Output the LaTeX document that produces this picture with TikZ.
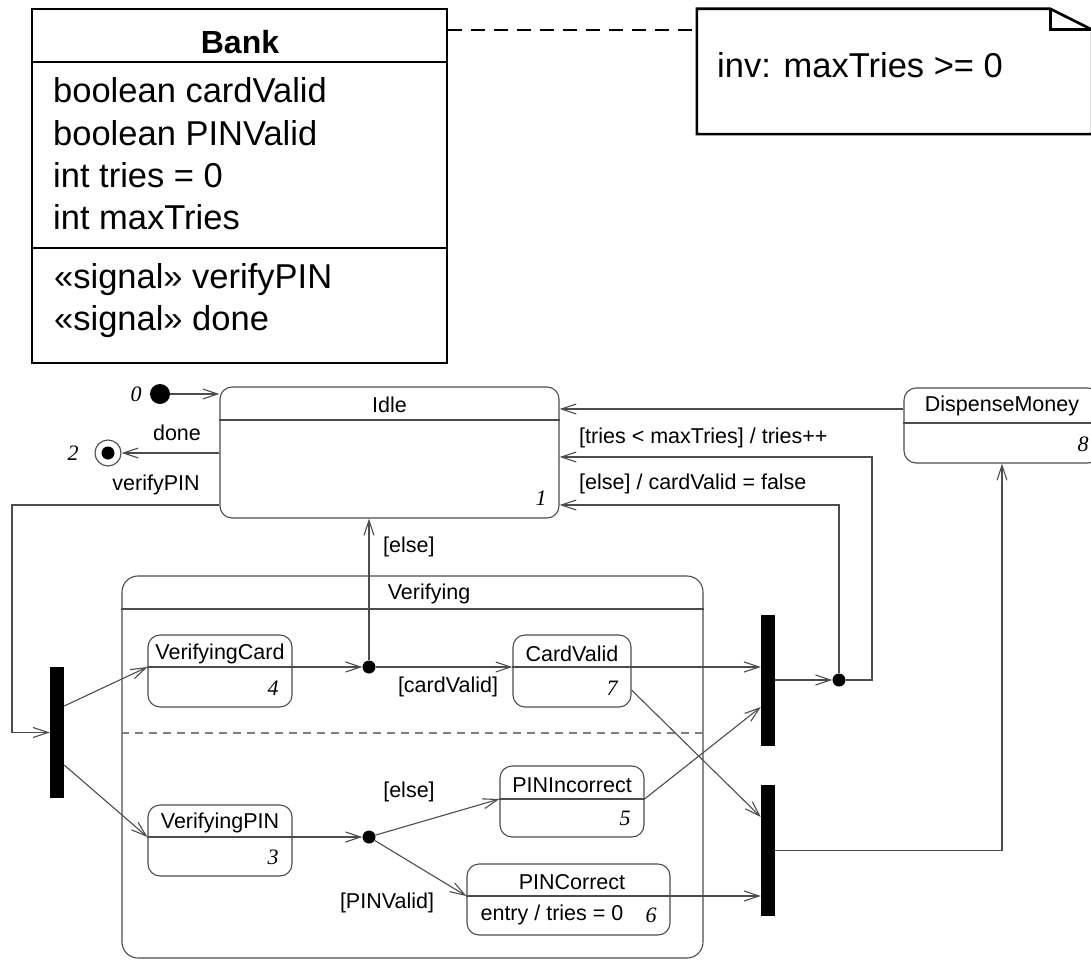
\documentclass[tikz,border=0pt]{standalone}
\usepackage{fontspec}
\setmainfont{Liberation Sans}
\newfontfamily\numfont{Liberation Serif}
\usetikzlibrary{arrows.meta}
\definecolor{linegray}{gray}{0.3}
\begin{document}
\begin{tikzpicture}[x=1pt,y=-1pt,
  state/.style={draw=linegray, line width=1.1pt, rounded corners=12pt, inner sep=0pt},
  sline/.style={draw=linegray, line width=1.1pt},
  trans/.style={draw=linegray, line width=1.1pt, -{Straight Barb[length=15pt,width=10pt,line width=1.1pt]}},
  lbl/.style={font=\fontsize{21.5}{25}\selectfont, inner sep=0pt},
  num/.style={font=\fontsize{22}{25}\selectfont\numfont\itshape, inner sep=0pt},
  bar/.style={fill=black, minimum width=14pt, minimum height=131pt, inner sep=0pt},
  junction/.style={circle, fill=black, minimum size=13pt, inner sep=0pt},
  cls/.style={font=\fontsize{34.5}{40}\selectfont, inner sep=0pt, anchor=west},
  thick line/.style={line width=2.6pt}]
\useasboundingbox (0,0) rectangle (1091,960);
\clip (0,0) rectangle (1091,960);

\node[draw, thick line, minimum width=415pt, minimum height=354pt, inner sep=0pt] (bank) at (239.5,186) {};
\draw[thick line] (bank.west |- 0,62) -- (bank.east |- 0,62);
\draw[thick line] (bank.west |- 0,248) -- (bank.east |- 0,248);
\node[cls, anchor=center, font=\fontsize{32}{40}\selectfont\bfseries] (bankname) at (240,42) {Bank};
\node[cls] (attr1) at (53,90) {boolean cardValid};
\node[cls] (attr2) at (53,133) {boolean PINValid};
\node[cls] (attr3) at (53,175) {int tries = 0};
\node[cls] (attr4) at (53,217) {int maxTries};
\node[cls] (sig1) at (54,280) {«signal» verifyPIN};
\node[cls] (sig2) at (54,322) {«signal» done};

\node[inner sep=0pt, minimum width=395pt, minimum height=125pt] (note) at (894.5,71.5) {};
\draw[thick line] (note.north west) -- ([xshift=-42pt]note.north east) -- ([yshift=-21pt]note.north east) -- (note.south east) -- (note.south west) -- cycle;
\draw[thick line] ([xshift=-42pt]note.north east) -- ([xshift=-42pt,yshift=-21pt]note.north east) -- ([yshift=-21pt]note.north east);
\node[cls] (invtext) at (717,65) {inv: maxTries >= 0};
\draw[thick line, dash pattern=on 14pt off 9pt] (bank.east |- 0,30) -- (note.west |- 0,30);

\node[state, rounded corners=16pt, minimum width=581pt, minimum height=382pt] (verifying) at (412.5,767) {};
\draw[sline] (verifying.west |- 0,609) -- (verifying.east |- 0,609);
\draw[sline, draw=gray, dash pattern=on 8pt off 6pt] (verifying.west |- 0,733) -- (verifying.east |- 0,733);
\node[lbl] (verifyingname) at (429,594) {Verifying};

\node[state, minimum width=339pt, minimum height=131pt] (idle) at (389.5,452.5) {};
\coordinate (idleh) at (389.5,420);
\draw[sline] (idle.west |- idleh) -- (idle.east |- idleh);
\node[lbl] (idlename) at (389.5,405) {Idle}; \node[num] (idlenum) at (541,498) {1};

\node[state, minimum width=196pt, minimum height=75pt] (dispense) at (1002,425.5) {};
\coordinate (dispenseh) at (1002,423);
\draw[sline] (dispense.west |- dispenseh) -- (dispense.east |- dispenseh);
\node[lbl] (dispensename) at (1002,406) {DispenseMoney}; \node[num] (dispensenum) at (1083,444) {8};

\node[state, minimum width=144pt, minimum height=72pt] (vcard) at (220,671) {};
\coordinate (vcardh) at (220,667);
\draw[sline] (vcard.west |- vcardh) -- (vcard.east |- vcardh);
\node[lbl] (vcardname) at (220,654) {VerifyingCard}; \node[num] (vcardnum) at (273,688) {4};

\node[state, minimum width=118pt, minimum height=72pt] (cvalid) at (572,671) {};
\coordinate (cvalidh) at (572,667);
\draw[sline] (cvalid.west |- cvalidh) -- (cvalid.east |- cvalidh);
\node[lbl] (cvalidname) at (572,654) {CardValid}; \node[num] (cvalidnum) at (612,688) {7};

\node[state, minimum width=144pt, minimum height=71pt] (vpin) at (220,840.5) {};
\coordinate (vpinh) at (220,837);
\draw[sline] (vpin.west |- vpinh) -- (vpin.east |- vpinh);
\node[lbl] (vpinname) at (220,823) {VerifyingPIN}; \node[num] (vpinnum) at (273,857) {3};

\node[state, minimum width=144pt, minimum height=71pt] (pinin) at (572,801.5) {};
\coordinate (pininh) at (572,799);
\draw[sline] (pinin.west |- pininh) -- (pinin.east |- pininh);
\node[lbl] (pininname) at (572,785) {PINIncorrect}; \node[num] (pininnum) at (625,818) {5};

\node[state, minimum width=203pt, minimum height=71pt] (pinok) at (568.5,899.5) {};
\coordinate (pinokh) at (568.5,896);
\draw[sline] (pinok.west |- pinokh) -- (pinok.east |- pinokh);
\node[lbl] (pinokname) at (572,882) {PINCorrect};
\node[lbl] (pinokentry) at (552,915) {entry / tries = 0}; \node[num] (pinoknum) at (651,915) {6};

\node[bar] (fork1) at (57,732.5) {};
\node[bar] (join1) at (768,680.5) {};
\node[bar] (join2) at (768,850.5) {};
\node[junction] (j1) at (369,667) {};
\node[junction] (j2) at (369,837) {};
\node[junction] (j3) at (839,680) {};

\node[junction, minimum size=20pt] (init) at (160,394) {}; \node[num] (initnum) at (136,394) {0};
\node[circle, draw=linegray, line width=1.1pt, minimum size=26pt, inner sep=0pt] (fin) at (108,453) {};
\node[junction, minimum size=13pt] (findot) at (fin) {}; \node[num] (finnum) at (73,453) {2};

\draw[trans] (init) -- (idle.west |- init);
\draw[trans] (idle.west |- fin) -- (fin);
\node[lbl] (donelbl) at (177,433) {done};
\coordinate (vp) at (12,505);
\draw[trans] (idle.west |- vp) -- (vp) |- (fork1.west);
\node[lbl] (vplbl) at (156,485) {verifyPIN};

\draw[trans] (fork1.east |- 0,706) -- (vcard.west |- vcardh);
\draw[trans] (fork1.east |- 0,765) -- (vpin.west |- vpinh);
\draw[trans] (vcard.east |- vcardh) -- (j1);
\draw[trans] (j1) -- (cvalid.west |- cvalidh);
\node[lbl] (cvlbl) at (448,687) {[cardValid]};
\draw[trans] (j1) -- (j1 |- idle.south);
\node[lbl, anchor=west] (else1) at (383,547) {[else]};
\draw[trans] (vpin.east |- vpinh) -- (j2);
\draw[trans] (j2) -- (pinin.west |- pininh);
\node[lbl] (else2) at (409,792) {[else]};
\draw[trans] (j2) -- (pinok.west |- pinokh);
\node[lbl] (pvlbl) at (387,903) {[PINValid]};

\draw[trans] (cvalid.east |- cvalidh) -- (join1.west |- cvalidh);
\draw[trans] (cvalid.east |- 0,690) -- (join2.west |- 0,817);
\draw[trans] (pinin.east |- pininh) -- (join1.west |- 0,707);
\draw[trans] (pinok.east |- pinokh) -- (join2.west |- pinokh);
\draw[trans] (join1.east |- j3) -- (j3);

\coordinate (tr) at (872,457);
\draw[trans] (j3) -| (tr) -- (idle.east |- tr);
\node[lbl, anchor=west] (trlbl) at (579,438) {[tries < maxTries] / tries++};
\coordinate (el) at (839,505);
\draw[trans] (j3) |- (idle.east |- el);
\node[lbl, anchor=west] (ellbl) at (579,484) {[else] / cardValid = false};
\draw[trans] (join2.east) -| (dispense.south);
\draw[trans] (dispense.west |- 0,409) -- (idle.east |- 0,409);
\end{tikzpicture}
\end{document}
